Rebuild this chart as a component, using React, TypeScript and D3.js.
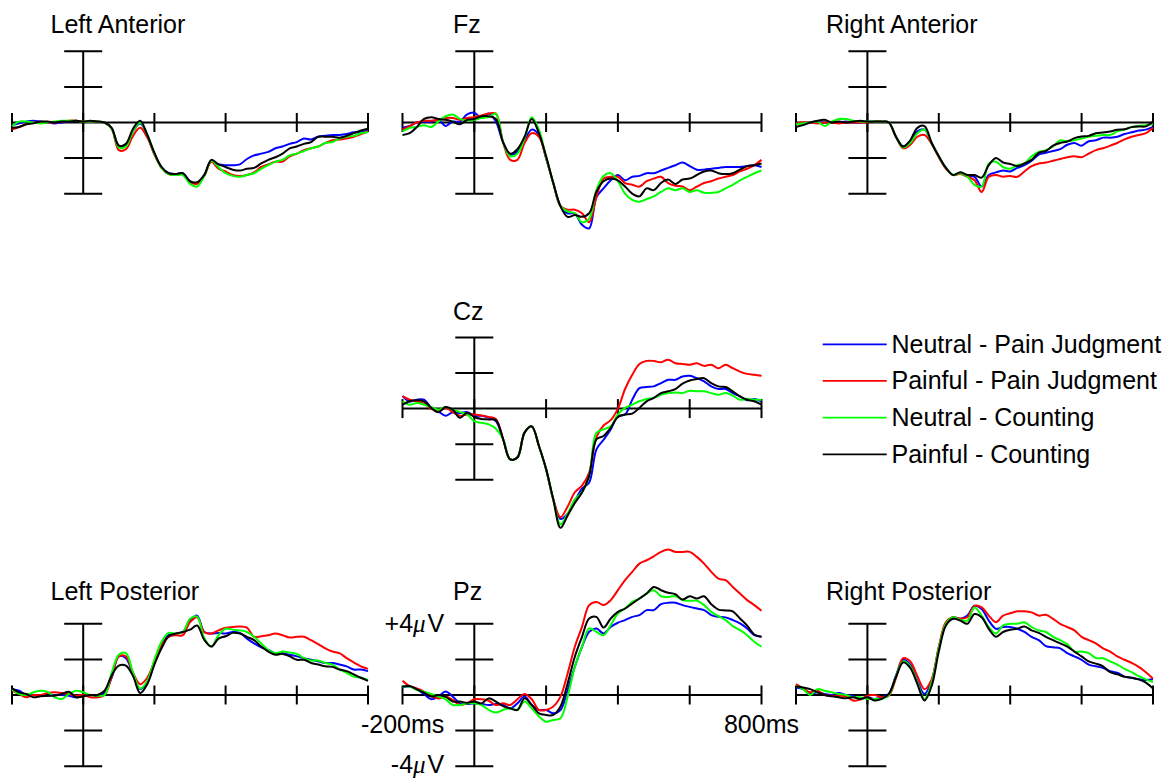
import React from 'react';
import * as d3 from 'd3';

// sample times (ms) shared by every waveform
const timesMs = [
  -200, -180, -160, -140, -120, -100, -80, -60, -40, -20,
  0, 20, 40, 60, 80, 100, 120, 140, 160, 180,
  200, 220, 240, 260, 280, 300, 320, 340, 360, 380,
  400, 420, 440, 460, 480, 500, 520, 540, 560, 580,
  600, 620, 640, 660, 680, 700, 720, 740, 760, 780,
  800,
];

const conditions = [
  'Neutral - Pain Judgment',
  'Painful - Pain Judgment',
  'Neutral - Counting',
  'Painful - Counting',
];
const conditionColors = ['#0000ff', '#ff0000', '#00ff00', '#000000'];

const xTicks = [-200, 0, 200, 400, 600, 800];
const yTicks = [-4, -2, 2, 4];

// ---- Left Anterior (uV)
const laNeutralPain = [
  -0.15, -0.05, 0.05, 0.1, 0.05, 0.0, -0.05, 0.0, 0.05, 0.1,
  0.05, 0.05, 0.05, 0.0, -0.35, -1.3, -1.25, -0.5, -0.05, -0.7,
  -1.75, -2.5, -2.85, -2.9, -2.85, -3.3, -3.4, -2.95, -2.15, -2.35,
  -2.4, -2.4, -2.35, -2.05, -1.85, -1.75, -1.65, -1.45, -1.35, -1.2,
  -1.1, -0.9, -0.95, -0.8, -0.75, -0.7, -0.7, -0.65, -0.55, -0.55,
  -0.45,
];
const laPainfulPain = [
  -0.4, -0.25, -0.1, 0.0, 0.0, 0.0, 0.0, 0.05, 0.1, 0.1,
  0.05, 0.05, 0.05, 0.0, -0.35, -1.55, -1.5, -0.75, -0.3, -0.85,
  -1.8, -2.55, -2.9, -2.95, -2.9, -3.35, -3.45, -3.0, -2.2, -2.6,
  -2.75, -2.95, -3.0, -2.95, -2.8, -2.5, -2.35, -2.2, -2.2, -1.9,
  -1.75, -1.55, -1.45, -1.35, -1.15, -1.0, -0.95, -0.9, -0.8, -0.65,
  -0.5,
];
const laNeutralCount = [
  -0.2, 0.05, 0.05, 0.0, -0.05, 0.0, 0.05, 0.1, 0.1, 0.1,
  0.05, 0.05, 0.05, 0.0, -0.35, -1.4, -1.35, -0.5, 0.0, -0.7,
  -1.75, -2.55, -2.9, -2.95, -2.95, -3.45, -3.6, -3.0, -2.15, -2.5,
  -2.85, -3.0, -3.05, -2.95, -2.85, -2.6, -2.4, -2.2, -2.1, -1.85,
  -1.75, -1.6, -1.45, -1.35, -1.15, -1.1, -0.9, -0.8, -0.75, -0.6,
  -0.55,
];
const laPainfulCount = [
  -0.3, -0.25, -0.1, -0.05, 0.05, 0.05, 0.0, 0.05, 0.05, 0.1,
  0.05, 0.1, 0.05, 0.0, -0.3, -1.3, -1.2, -0.35, 0.1, -0.7,
  -1.7, -2.5, -2.85, -2.9, -2.85, -3.3, -3.35, -2.95, -2.1, -2.35,
  -2.5, -2.65, -2.7, -2.6, -2.55, -2.3, -2.1, -1.95, -1.75, -1.45,
  -1.35, -1.2, -1.1, -0.8, -0.8, -0.8, -0.85, -0.75, -0.6, -0.45,
  -0.35,
];

// ---- Fz
const fzNeutralPain = [
  -0.3, -0.2, 0.0, 0.05, 0.05, 0.15, -0.2, 0.05, 0.05, 0.45,
  0.55, 0.25, 0.5, 0.05, -1.1, -1.8, -1.65, -1.0, -0.4, -0.7,
  -2.0, -3.4, -4.7, -5.1, -5.1, -5.75, -5.95, -4.2, -3.7, -3.25,
  -2.95, -3.25, -3.05, -3.0, -2.85, -2.85, -2.7, -2.55, -2.4, -2.25,
  -2.45, -2.65, -2.65, -2.6, -2.55, -2.5, -2.5, -2.5, -2.45, -2.4,
  -2.5,
];
const fzPainfulPain = [
  -0.4, -0.2, 0.0, 0.1, 0.1, 0.15, 0.25, 0.25, 0.15, 0.25,
  0.3, 0.4, 0.5, 0.5, -1.1, -2.1, -2.1, -1.15, -0.6, -0.8,
  -2.0, -3.4, -4.7, -4.9, -4.9, -5.1, -5.6, -4.2, -3.15, -3.05,
  -3.05, -3.4, -3.5, -3.6, -3.3, -3.15, -3.05, -3.4, -3.55, -3.6,
  -3.8, -3.6, -3.4, -3.3, -3.15, -3.05, -2.95, -2.75, -2.6, -2.4,
  -2.1,
];
const fzNeutralCount = [
  -0.5, -0.3, -0.25, -0.15, -0.25, 0.05, 0.35, 0.45, 0.2, 0.1,
  0.15, 0.25, 0.3, 0.5, -1.1, -1.9, -1.75, -0.9, 0.3, -0.4,
  -1.95, -3.4, -4.7, -5.0, -5.1, -5.6, -5.4, -3.8, -3.0, -2.85,
  -3.3, -4.0, -4.35, -4.45, -4.3, -4.15, -3.9, -3.7, -3.8, -3.7,
  -3.9, -3.8, -3.95, -3.95, -3.9, -3.7, -3.5, -3.25, -3.05, -2.85,
  -2.7,
];
const fzPainfulCount = [
  -0.7, -0.6, -0.25, 0.2, 0.3, 0.2, 0.15, 0.05, -0.1, 0.15,
  0.2, 0.35, 0.35, 0.2, -1.1, -1.75, -1.5, -0.8, 0.2, -0.6,
  -1.9, -3.4, -4.7, -5.3, -5.2, -5.3, -5.1, -3.9, -3.3, -3.15,
  -3.25, -3.6, -4.0, -4.15, -3.7, -3.8, -3.4, -3.2, -3.45, -3.2,
  -3.15, -2.95, -2.75, -2.7, -2.85, -2.9, -2.85, -2.65, -2.45, -2.4,
  -2.3,
];

// ---- Right Anterior
const raNeutralPain = [
  -0.05, -0.05, 0.0, 0.0, 0.0, 0.0, 0.0, 0.05, 0.0, 0.0,
  0.05, 0.05, 0.05, 0.0, -0.8, -1.35, -1.05, -0.5, -0.4, -1.15,
  -1.9, -2.55, -2.95, -2.85, -3.0, -3.05, -3.6, -2.95, -2.8, -2.7,
  -2.75, -2.55, -2.4, -2.15, -1.8, -1.7, -1.6, -1.5, -1.25, -1.15,
  -1.3, -1.05, -1.0, -0.85, -0.85, -0.8, -0.65, -0.55, -0.45, -0.4,
  -0.25,
];
const raPainfulPain = [
  -0.05, 0.0, 0.0, -0.05, 0.0, 0.0, -0.05, 0.0, 0.0, 0.0,
  0.0, 0.05, 0.05, 0.0, -0.8, -1.45, -1.25, -0.8, -0.7, -1.2,
  -1.95, -2.6, -2.95, -2.9, -3.05, -3.25, -3.9, -3.05, -2.95, -3.05,
  -3.0, -3.05, -2.75, -2.45, -2.3, -2.25, -2.15, -2.05, -1.95, -1.9,
  -1.95, -1.75, -1.55, -1.45, -1.3, -1.15, -0.95, -0.8, -0.7, -0.6,
  -0.3,
];
const raNeutralCount = [
  -0.1, -0.05, 0.0, 0.05, -0.2, 0.05, 0.2, 0.2, 0.1, 0.05,
  0.05, 0.05, 0.05, 0.0, -0.8, -1.4, -1.15, -0.6, -0.4, -1.15,
  -1.9, -2.55, -2.95, -2.85, -3.05, -3.5, -3.6, -2.3, -2.2, -2.5,
  -2.6, -2.4, -2.3, -1.9, -1.65, -1.55, -1.35, -1.0, -1.05, -1.0,
  -0.9, -0.8, -0.75, -0.7, -0.7, -0.5, -0.4, -0.25, -0.2, -0.15,
  -0.1,
];
const raPainfulCount = [
  -0.25, -0.15, 0.0, 0.1, 0.15, 0.0, 0.05, 0.0, 0.05, 0.1,
  0.05, 0.05, 0.05, 0.0, -0.8, -1.35, -1.0, -0.3, -0.2, -1.15,
  -1.9, -2.55, -2.95, -2.8, -2.95, -2.95, -3.1, -2.4, -2.0, -2.25,
  -2.33, -2.45, -2.3, -2.1, -1.7, -1.6, -1.3, -1.15, -1.07, -0.88,
  -0.79, -0.75, -0.6, -0.56, -0.5, -0.41, -0.38, -0.26, -0.22, -0.22,
  0.05,
];

// ---- Cz
const czNeutralPain = [
  0.7, 0.4, 0.5, 0.5, 0.05, -0.15, -0.4, -0.2, -0.25, -0.2,
  -0.4, -0.4, -0.5, -0.7, -1.7, -2.85, -2.75, -1.35, -1.0, -2.1,
  -3.4, -5.1, -6.2, -5.9, -5.2, -4.5, -4.15, -2.3, -1.75, -1.17,
  -0.43, -0.33, 0.5, 1.15, 1.21, 1.25, 1.43, 1.62, 1.62, 1.8,
  1.84, 1.71, 1.53, 1.25, 1.1, 1.1, 0.87, 0.69, 0.47, 0.54,
  0.41,
];
const czPainfulPain = [
  0.7, 0.5, 0.4, 0.28, -0.02, -0.15, 0.04, -0.2, -0.4, -0.33,
  -0.33, -0.39, -0.47, -0.58, -1.7, -2.85, -2.75, -1.35, -1.0, -2.1,
  -3.4, -5.1, -6.1, -5.5, -4.7, -4.33, -3.6, -1.6, -0.95, -0.65,
  0.0, 1.1, 1.9, 2.5, 2.68, 2.68, 2.6, 2.75, 2.55, 2.51,
  2.46, 2.55, 2.4, 2.46, 2.27, 2.46, 2.27, 2.08, 1.95, 1.9,
  1.84,
];
const czNeutralCount = [
  0.41, 0.22, 0.32, 0.22, 0.09, -0.06, 0.09, -0.06, -0.2, -0.33,
  -0.71, -0.8, -0.89, -1.13, -1.7, -2.85, -2.75, -1.35, -1.0, -2.1,
  -3.4, -5.1, -6.5, -5.9, -5.1, -4.71, -3.78, -1.36, -1.17, -0.99,
  -0.33, 0.04, 0.22, 0.41, 0.54, 0.6, 0.78, 0.87, 0.91, 0.87,
  1.0, 0.97, 0.97, 0.87, 0.78, 0.87, 0.73, 0.5, 0.54, 0.5,
  0.5,
];
const czPainfulCount = [
  0.22, 0.41, 0.47, 0.41, 0.04, -0.2, 0.09, -0.06, -0.52, -0.24,
  -0.47, -0.58, -0.61, -0.65, -1.7, -2.85, -2.75, -1.35, -1.0, -2.1,
  -3.4, -5.1, -6.7, -6.0, -5.3, -4.71, -3.78, -1.73, -1.54, -1.08,
  -0.47, -0.33, -0.28, 0.04, 0.41, 0.6, 0.87, 0.97, 1.1, 1.4,
  1.58, 1.66, 1.71, 1.43, 1.25, 1.21, 0.97, 0.69, 0.5, 0.41,
  0.22,
];

// ---- Left Posterior
const lpNeutralPain = [
  0.33, 0.24, 0, 0, -0.04, -0.04, 0, 0, -0.04, -0.13,
  -0.04, 0, -0.07, 0.15, 0.97, 2.17, 2.07, 1.16, 0.33, 0.7,
  1.8, 2.81, 3.36, 3.45, 3.54, 4.18, 4.46, 3.54, 3.45, 3.49,
  3.45, 3.54, 3.49, 3.17, 2.9, 2.68, 2.53, 2.35, 2.35, 2.26,
  2.17, 2.07, 1.98, 1.89, 1.8, 1.8, 1.71, 1.61, 1.43, 1.43,
  1.34,
];
const lpPainfulPain = [
  0.24, 0.06, -0.13, 0, 0, 0.11, 0.15, 0.11, 0.06, -0.04,
  0, -0.13, -0.13, 0, 1.03, 2.17, 2.17, 1.25, 0.61, 0.97,
  1.89, 2.81, 3.27, 3.36, 3.36, 4.09, 4.37, 3.54, 3.45, 3.63,
  3.78, 3.82, 3.85, 3.78, 3.27, 3.3, 3.36, 3.45, 3.36, 3.23,
  3.27, 3.27, 3.08, 2.86, 2.62, 2.44, 2.35, 2.07, 1.83, 1.61,
  1.47,
];
const lpNeutralCount = [
  0.33, 0.06, 0, 0.15, 0.24, 0.18, -0.13, -0.22, 0.06, 0.24,
  0.15, 0, -0.04, 0, 1.25, 2.26, 2.35, 1.25, 0.37, 0.79,
  1.98, 2.99, 3.49, 3.45, 3.54, 4.28, 4.4, 3.2, 2.72, 3.36,
  3.72, 3.67, 3.63, 3.54, 3.27, 2.9, 2.53, 2.35, 2.44, 2.39,
  2.31, 2.07, 1.94, 1.94, 1.8, 1.71, 1.43, 1.25, 1.03, 0.97,
  0.84,
];
const lpPainfulCount = [
  0.37, 0.15, 0.06, -0.13, -0.07, -0.04, -0.04, 0.06, 0.18, -0.13,
  -0.07, 0, 0, 0.24, 1.1, 1.65, 1.65, 1.06, 0.11, 0.61,
  1.71, 2.62, 3.3, 3.45, 3.54, 3.67, 3.9, 3.1, 2.72, 3.17,
  3.3, 3.49, 3.45, 3.27, 3.08, 2.72, 2.44, 2.26, 2.31, 2.17,
  1.98, 1.98, 1.8, 1.71, 1.61, 1.58, 1.43, 1.34, 1.16, 0.97,
  0.79,
];

// ---- Pz
const pzNeutralPain = [
  0.47, 0.47, 0.32, 0.06, -0.24, -0.09, 0.19, -0.09, -0.47, -0.5,
  -0.47, -0.5, -0.56, -0.5, -0.56, -0.75, -0.47, -0.09, -0.56, -0.84,
  -0.84, -1.03, -0.84, 0.28, 1.59, 2.71, 3.55, 3.74, 3.46, 3.83,
  4.06, 4.21, 4.39, 4.49, 4.77, 4.77, 5.1, 5.18, 5.18, 5.05,
  4.95, 4.86, 4.77, 4.49, 4.39, 4.36, 4.21, 4.02, 3.74, 3.36,
  3.27,
];
const pzPainfulPain = [
  0.8, 0.5, 0.37, 0.19, -0.06, -0.19, -0.09, -0.28, -0.56, -0.47,
  -0.24, -0.24, -0.32, -0.56, -0.47, -0.56, -0.24, 0.06, -0.24, -0.84,
  -0.84, -0.65, -0.09, 1.21, 2.71, 3.83, 5.05, 5.23, 5.05, 5.33,
  5.89, 6.45, 6.92, 7.38, 7.57, 7.79, 8.04, 8.17, 8.04, 8.04,
  8.04, 7.76, 7.38, 6.92, 6.54, 6.45, 6.07, 5.7, 5.33, 5.05,
  4.73,
];
const pzNeutralCount = [
  0.47, 0.47, 0.28, 0.19, 0.06, -0.09, -0.24, -0.56, -0.56, -0.47,
  -0.47, -0.56, -0.84, -0.99, -0.84, -0.75, -0.84, -0.37, -0.75, -1.21,
  -1.5, -1.4, -1.31, -0.09, 1.59, 2.71, 3.74, 3.55, 3.36, 3.93,
  4.58, 4.86, 5.23, 5.42, 5.7, 5.89, 5.55, 5.51, 5.55, 5.33,
  5.29, 5.29, 5.05, 4.67, 4.43, 4.21, 3.87, 3.64, 3.36, 2.99,
  2.71,
];
const pzPainfulCount = [
  0.47, 0.5, 0.32, 0.13, -0.09, 0, -0.09, -0.37, -0.37, -0.43,
  -0.37, -0.47, -0.19, -0.37, -0.62, -0.75, -0.84, -0.19, -0.56, -1.03,
  -1.12, -1.12, -0.65, 0.65, 2.15, 3.27, 4.3, 4.39, 3.79, 4.3,
  4.67, 4.86, 5.14, 5.42, 5.7, 6.07, 5.89, 5.74, 5.66, 5.36,
  5.55, 5.42, 5.55, 5.1, 4.8, 4.75, 4.7, 4.3, 3.9, 3.4,
  3.27,
];

// ---- Right Posterior
const rpNeutralPain = [
  0.42, 0.33, 0.06, 0.15, 0.06, 0, 0.11, 0, -0.07, -0.22,
  -0.13, -0.22, -0.13, 0.06, 1.1, 1.98, 1.71, 0.79, 0.06, 0.79,
  2.62, 4.0, 4.37, 4.28, 4.46, 5.01, 4.83, 4.18, 3.72, 3.82,
  3.82, 3.72, 3.54, 3.27, 3.08, 2.75, 2.68, 2.62, 2.35, 2.17,
  1.98, 1.71, 1.61, 1.52, 1.34, 1.25, 1.03, 0.97, 0.88, 0.84,
  0.88,
];
const rpPainfulPain = [
  0.61, 0.37, 0.15, 0.24, 0, -0.04, -0.04, -0.07, -0.31, -0.26,
  -0.04, 0, -0.13, -0.04, 0.95, 2.07, 1.89, 1.06, 0.33, 0.88,
  2.72, 4.09, 4.37, 4.28, 4.37, 5.01, 4.92, 4.46, 4.09, 4.46,
  4.59, 4.7, 4.7, 4.64, 4.46, 4.51, 4.28, 4.0, 3.82, 3.63,
  3.27, 3.08, 2.9, 2.62, 2.44, 2.17, 1.98, 1.8, 1.58, 1.28,
  0.92,
];
const rpNeutralCount = [
  0.51, 0.33, 0, 0.33, 0.24, 0.15, 0.06, 0, -0.13, -0.13,
  -0.22, -0.22, -0.22, 0, 1.05, 1.89, 1.61, 0.7, -0.22, 0.7,
  2.62, 4.0, 4.37, 4.22, 4.18, 4.92, 4.46, 3.82, 3.45, 3.91,
  4.0, 4.0, 4.09, 3.82, 3.63, 3.54, 3.27, 3.08, 2.86, 2.44,
  2.44, 2.35, 2.07, 2.07, 1.89, 1.71, 1.47, 1.28, 1.06, 0.88,
  0.73,
];
const rpPainfulCount = [
  0.48, 0.42, 0.33, 0.15, 0, -0.07, -0.13, -0.18, -0.13, -0.22,
  -0.13, -0.31, -0.22, 0.06, 1.0, 1.83, 1.52, 0.61, -0.31, 0.51,
  2.44, 3.91, 4.28, 4.18, 4.0, 4.55, 4.37, 3.72, 3.27, 3.54,
  3.67, 3.72, 3.85, 3.63, 3.49, 3.27, 3.08, 2.9, 2.72, 2.44,
  2.17, 1.89, 1.76, 1.61, 1.28, 1.16, 1.03, 0.97, 0.88, 0.7,
  0.37,
];

const panels = [
  { title: 'Left Anterior', col: 0, row: 0, series: [laNeutralPain, laPainfulPain, laNeutralCount, laPainfulCount] },
  { title: 'Fz', col: 1, row: 0, series: [fzNeutralPain, fzPainfulPain, fzNeutralCount, fzPainfulCount] },
  { title: 'Right Anterior', col: 2, row: 0, series: [raNeutralPain, raPainfulPain, raNeutralCount, raPainfulCount] },
  { title: 'Cz', col: 1, row: 1, series: [czNeutralPain, czPainfulPain, czNeutralCount, czPainfulCount] },
  { title: 'Left Posterior', col: 0, row: 2, series: [lpNeutralPain, lpPainfulPain, lpNeutralCount, lpPainfulCount] },
  { title: 'Pz', col: 1, row: 2, series: [pzNeutralPain, pzPainfulPain, pzNeutralCount, pzPainfulCount] },
  { title: 'Right Posterior', col: 2, row: 2, series: [rpNeutralPain, rpPainfulPain, rpNeutralCount, rpPainfulCount] },
];

// layout
const W = 1172;
const H = 778;
const colLeft = [12, 402.5, 796];
const colWidth = [356, 359, 357];
const rowZero = [122.5, 408.6, 695];
const titleX = [50.5, 453, 826];
const titleY = [32.5, 320, 600];
const pxPerUv = 17.8;
const font = "'Liberation Sans', Arial, Helvetica, sans-serif";
const fontSize = 25;

const makeScales = (col: number, row: number) => {
  const x = d3.scaleLinear().domain([-200, 800]).range([colLeft[col], colLeft[col] + colWidth[col]]);
  const y = d3
    .scaleLinear()
    .domain([-4, 4])
    .range([rowZero[row] + 4 * pxPerUv, rowZero[row] - 4 * pxPerUv]);
  return { x, y };
};

const Panel = ({ p }: { p: (typeof panels)[number] }) => {
  const { x, y } = makeScales(p.col, p.row);
  const line = d3
    .line<number>()
    .x((_, i) => x(timesMs[i]))
    .y((d) => y(d))
    .curve(d3.curveCatmullRom.alpha(0.5));
  const x0 = x(0);
  const y0 = y(0);

  return (
    <g>
      <text x={titleX[p.col]} y={titleY[p.row]} fontFamily={font} fontSize={fontSize} fill="#000">
        {p.title}
      </text>
      {/* axes */}
      <g stroke="#000" strokeWidth={2} fill="none">
        <line x1={x(-200)} x2={x(800)} y1={y0} y2={y0} />
        {xTicks.map((t) => (
          <line key={'xt' + t} x1={x(t)} x2={x(t)} y1={y0 - 9.5} y2={y0 + 9.5} />
        ))}
        <line x1={x0} x2={x0} y1={y(4)} y2={y(-4)} />
        {yTicks.map((v) => (
          <line key={'yt' + v} x1={x0 - 19} x2={x0 + 19} y1={y(v)} y2={y(v)} />
        ))}
      </g>
      {/* waveforms */}
      {p.series.map((s, i) => (
        <path
          key={conditions[i]}
          d={line(s) || ''}
          fill="none"
          stroke={conditionColors[i]}
          strokeWidth={2}
          strokeLinejoin="round"
        />
      ))}
    </g>
  );
};

const ScaleLabels = () => {
  const { x, y } = makeScales(1, 2);
  const lx = x(0) - 30;
  const uv = (sign: string) => (
    <>
      {sign}4
      <tspan fontFamily="'Liberation Serif', 'DejaVu Serif', serif" fontStyle="italic">
        μ
      </tspan>
      <tspan dx={2}>V</tspan>
    </>
  );
  return (
    <g fontFamily={font} fontSize={fontSize} fill="#000">
      <text x={lx} y={y(4) + 8.5} textAnchor="end">
        {uv('+')}
      </text>
      <text x={lx} y={y(-4) + 6.5} textAnchor="end">
        {uv('-')}
      </text>
      <text x={lx} y={y(0) + 38} textAnchor="end">
        -200ms
      </text>
      <text x={x(800)} y={y(0) + 38} textAnchor="middle">
        800ms
      </text>
    </g>
  );
};

const Legend = () => {
  const rowY = d3.scalePoint<string>().domain(conditions).range([344.3, 454.3]);
  return (
    <g>
      {conditions.map((c, i) => (
        <g key={c}>
          <line x1={822.7} x2={886.7} y1={rowY(c)} y2={rowY(c)} stroke={conditionColors[i]} strokeWidth={1.8} />
          <text x={891.5} y={(rowY(c) || 0) + 8.5} fontFamily={font} fontSize={fontSize} fill="#000">
            {c}
          </text>
        </g>
      ))}
    </g>
  );
};

export default function App() {
  return (
    <div style={{ position: 'absolute', left: 0, top: 0, width: W, height: H, background: '#fff' }}>
      <svg width={W} height={H} viewBox={`0 0 ${W} ${H}`}>
        <rect width={W} height={H} fill="#fff" />
        {panels.map((p) => (
          <Panel key={p.title} p={p} />
        ))}
        <ScaleLabels />
        <Legend />
      </svg>
    </div>
  );
}
